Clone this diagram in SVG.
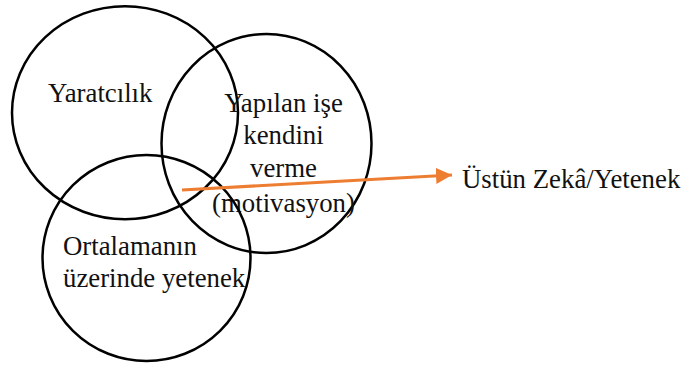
<svg xmlns="http://www.w3.org/2000/svg" width="685" height="367" viewBox="0 0 685 367">
<style>
.c{fill:none;stroke:#000;stroke-width:2.5}
.t{font-family:"Liberation Serif","Times New Roman",serif;font-size:26.8px;fill:#111}
.m{text-anchor:middle}
.a{stroke:#ED7D31;stroke-width:3.2;fill:none}
</style>
<defs>
<marker id="ah" viewBox="0 0 10 10" refX="10" refY="5" markerWidth="5" markerHeight="5" markerUnits="strokeWidth" orient="auto">
<path d="M0,0 L10,5 L0,10 z" fill="#ED7D31"/>
</marker>
</defs>
<rect width="685" height="367" fill="#fff"/>
<g id="yaratcilik">
<ellipse class="c" cx="125" cy="112.7" rx="113" ry="106.5"/>
<text class="t" x="48" y="102">Yaratcılık</text>
</g>
<g id="motivasyon">
<ellipse class="c" cx="266.5" cy="143.5" rx="105" ry="109.5"/>
<text class="t m" x="283.5" y="111.5">Yapılan işe</text>
<text class="t m" x="283.5" y="143.5">kendini</text>
<text class="t m" x="283.5" y="176.5">verme</text>
<text class="t m" x="283.5" y="211.5">(motivasyon)</text>
</g>
<g id="yetenek">
<ellipse class="c" cx="146.5" cy="258" rx="104" ry="103"/>
<text class="t" x="63" y="255">Ortalamanın</text>
<text class="t" x="63" y="286.5">üzerinde yetenek</text>
</g>
<g id="ustun">
<text class="t" x="462" y="187.5">Üstün Zekâ/Yetenek</text>
</g>
<g id="connectors">
<line class="a" x1="182" y1="190" x2="452" y2="175" marker-end="url(#ah)"/>
</g>
</svg>
